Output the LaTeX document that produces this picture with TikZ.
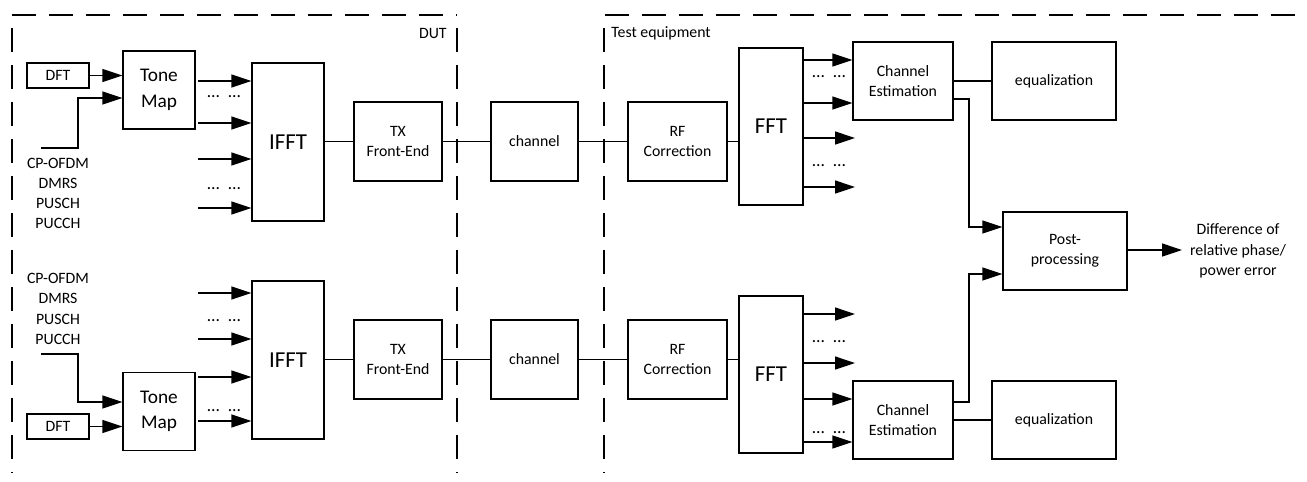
\documentclass[tikz,border=0pt]{standalone}
\usepackage{fontspec}
\setmainfont{Carlito}
\usetikzlibrary{arrows.meta}

\newcommand{\gapdots}{{\fontsize{10}{12}\selectfont\dots\hspace{5pt}\dots}}

\begin{document}
\begin{tikzpicture}[
  x=0.02cm, y=-0.02cm,
  font=\fontsize{9}{11.5}\selectfont,
  box/.style={draw, line width=0.75pt, inner sep=0pt, align=center},
  small/.style={box, minimum width=1.24cm, minimum height=0.5cm},
  tone/.style={box, minimum width=1.44cm, minimum height=1.56cm, font=\fontsize{11}{14.5}\selectfont},
  tall/.style={box, minimum width=1.44cm, minimum height=3.16cm, font=\fontsize{13}{15}\selectfont},
  blk/.style={box, minimum height=1.58cm},
  lab/.style={align=center, inner sep=0pt},
  ln/.style={line width=0.75pt},
  ar/.style={-{Triangle[length=4mm,width=2.6mm]}, line width=0.75pt},
  frame/.style={line width=0.75pt, dash pattern=on 0.48cm off 0.26cm}
]
\useasboundingbox (0,0) rectangle (1307,481);

% DUT / test equipment borders
\draw[frame] (12,15) -- (457,15);
\draw[frame] (12,28) -- (12,473);
\draw[frame] (457,28) -- (457,473);
\draw[frame] (605,15) -- (1307,15);
\draw[frame] (604,28) -- (604,473);
\node[lab, anchor=east] (dut) at (447,33) {DUT};
\node[lab, anchor=west] (teq) at (611,33) {Test equipment};

% upper branch
\node[small] (dftA)  at (58,75.5)    {DFT};
\node[tone]  (toneA) at (159,90)     {Tone\\Map};
\node[tall]  (ifftA) at (288,142)    {IFFT};
\node[blk, minimum width=1.76cm] (txA) at (398,141.5) {TX\\Front-End};
\node[blk, minimum width=1.74cm] (chA) at (534.5,141.5) {channel};
\node[blk, minimum width=1.98cm] (rfA) at (677.5,141.5) {RF\\Correction};
\node[tall, minimum width=1.28cm, minimum height=3.14cm] (fftA) at (771,126.5) {FFT};
\node[box, minimum width=2cm, minimum height=1.56cm] (ceA) at (903,81) {Channel\\Estimation};
\node[box, minimum width=2.48cm, minimum height=1.56cm] (eqA) at (1054,81) {equalization};
\node[lab] (sigA) at (58,193.5) {CP-OFDM\\DMRS\\PUSCH\\PUCCH};
\coordinate (selA) at (41,148);

\draw[ar] (dftA) -- (dftA -| toneA.west);
\draw[ar] (selA) -- (78,148) -- (78,98) -- (toneA.west |- 0,98);
\foreach \y [count=\i] in {81,123,159,208} {
  \coordinate (ia\i) at (198,\y);
  \draw[ar] (ia\i) -- (ia\i -| ifftA.west);
}
\node[lab] (da1) at (224,97)  {\gapdots};
\node[lab] (da2) at (224,189) {\gapdots};
\draw[ln] (ifftA.east |- txA) -- (txA.west);
\draw[ln] (txA) -- (chA);
\draw[ln] (chA) -- (rfA);
\draw[ln] (rfA.east) -- (rfA.east -| fftA.west);
\foreach \y in {60,103} \draw[ar] (fftA.east |- 0,\y) -- (ceA.west |- 0,\y);
\foreach \y [count=\i] in {138,187} {
  \coordinate (oa\i) at (855,\y);
  \draw[ar] (oa\i -| fftA.east) -- (oa\i);
}
\node[lab] (fa1) at (829,77)  {\gapdots};
\node[lab] (fa2) at (829,166) {\gapdots};
\draw[ln] (ceA) -- (eqA);

% lower branch
\node[small] (dftB)  at (58,426.5)   {DFT};
\node[tone]  (toneB) at (159,411.5)  {Tone\\Map};
\node[tall]  (ifftB) at (288,360)    {IFFT};
\node[blk, minimum width=1.76cm] (txB) at (398,359.5) {TX\\Front-End};
\node[blk, minimum width=1.74cm] (chB) at (534.5,359.5) {channel};
\node[blk, minimum width=1.98cm] (rfB) at (677.5,359.5) {RF\\Correction};
\node[tall, minimum width=1.28cm, minimum height=3.14cm] (fftB) at (771,374.5) {FFT};
\node[box, minimum width=2cm, minimum height=1.56cm] (ceB) at (903,420) {Channel\\Estimation};
\node[box, minimum width=2.48cm, minimum height=1.56cm] (eqB) at (1054,420) {equalization};
\node[lab] (sigB) at (58,309) {CP-OFDM\\DMRS\\PUSCH\\PUCCH};
\coordinate (selB) at (41,354);

\draw[ar] (dftB) -- (dftB -| toneB.west);
\draw[ar] (selB) -- (78,354) -- (78,402) -- (toneB.west |- 0,402);
\foreach \y [count=\i] in {293,339,377,421} {
  \coordinate (ib\i) at (198,\y);
  \draw[ar] (ib\i) -- (ib\i -| ifftB.west);
}
\node[lab] (db1) at (224,321) {\gapdots};
\node[lab] (db2) at (224,411) {\gapdots};
\draw[ln] (ifftB.east |- txB) -- (txB.west);
\draw[ln] (txB) -- (chB);
\draw[ln] (chB) -- (rfB);
\draw[ln] (rfB.east) -- (rfB.east -| fftB.west);
\foreach \y [count=\i] in {314,363} {
  \coordinate (ob\i) at (855,\y);
  \draw[ar] (ob\i -| fftB.east) -- (ob\i);
}
\foreach \y in {399,442} \draw[ar] (fftB.east |- 0,\y) -- (ceB.west |- 0,\y);
\node[lab] (fb1) at (829,342) {\gapdots};
\node[lab] (fb2) at (829,433) {\gapdots};
\draw[ln] (ceB) -- (eqB);

% post-processing
\node[box, minimum width=2.48cm, minimum height=1.56cm] (post) at (1065,251) {Post-\\processing};
\node[lab] (res) at (1238,251) {Difference of\\relative phase/\\power error};
\draw[ar] (ceA.east |- 0,99) -- (969,99) -- (969,227) -- (post.west |- 0,227);
\draw[ar] (ceB.east |- 0,402) -- (969,402) -- (969,274) -- (post.west |- 0,274);
\draw[ar] (post.east |- 0,250) -- (1182,250);
\end{tikzpicture}
\end{document}
